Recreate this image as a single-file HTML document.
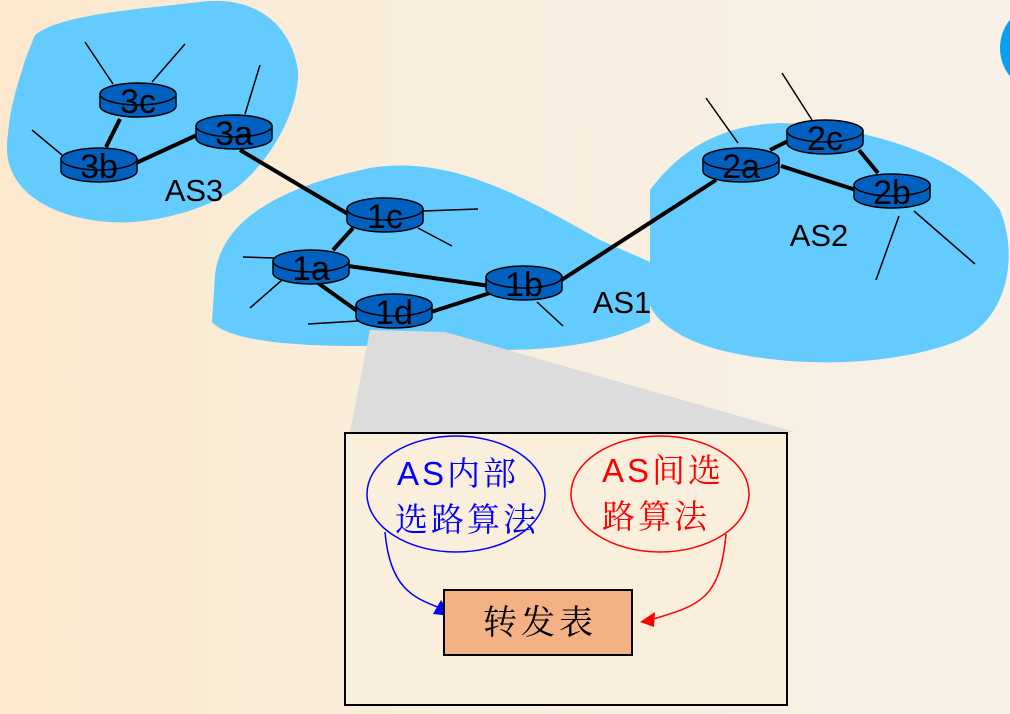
<!DOCTYPE html>
<html><head><meta charset="utf-8"><style>
html,body{margin:0;padding:0;width:1010px;height:714px;overflow:hidden}
body{background:linear-gradient(90deg,#fbe8cd 0%,#f9eedd 45%,#f7f1e7 100%)}
svg{display:block}
.lbl{font-family:"Liberation Sans","DejaVu Sans",sans-serif;font-size:31px;fill:#000}
.rl{font-family:"Liberation Sans","DejaVu Sans",sans-serif;font-size:34px;fill:#000}
.cjk{font-family:"Liberation Sans","Noto Serif CJK SC","Noto Sans CJK SC",serif;font-size:33px;letter-spacing:3px}
</style></head><body>
<svg width="1010" height="714" viewBox="0 0 1010 714">
<defs>
<g id="r">
<path d="M-38,-6 L-38,6 A38,11 0 0 0 38,6 L38,-6 Z" fill="#0060c0" stroke="#000" stroke-width="1.5"/>
<ellipse cx="0" cy="-6" rx="38" ry="11" fill="#0060c0" stroke="#000" stroke-width="1.5"/>
</g>
</defs>
<circle cx="1045" cy="48" r="45" fill="#0aa0f0"/>
<path d="M35,35 C60,15 130,10 200,2 C250,-5 290,20 298,70 C300,110 270,160 240,185 C210,210 150,225 110,222 C50,218 5,190 7,145 C10,100 20,80 25,60 Z" fill="#63cbfd"/>
<path d="M650,190 C680,150 720,125 780,123 C850,125 960,150 1000,210 C1020,260 1005,320 960,340 C900,365 800,370 720,350 C680,340 655,320 650,305 Z" fill="#63cbfd"/>
<path d="M215,275 C222,215 290,185 370,168 C450,155 520,195 600,240 L650,262 L650,322 C610,342 560,350 500,350 L360,346 C300,346 230,342 212,322 Z" fill="#63cbfd"/>
<polygon points="370,330 445,332 795,432 350,432" fill="#dcdcdc"/>
<g stroke="#000" stroke-width="1.5">
<line x1="85" y1="42" x2="113" y2="84"/><line x1="185" y1="44" x2="152" y2="82"/>
<line x1="260" y1="65" x2="245" y2="114"/><line x1="32" y1="130" x2="62" y2="155"/>
<line x1="423" y1="211" x2="478" y2="209"/><line x1="418" y1="228" x2="452" y2="246"/>
<line x1="243" y1="257" x2="275" y2="258"/><line x1="250" y1="308" x2="282" y2="280"/>
<line x1="308" y1="324" x2="358" y2="321"/><line x1="537" y1="302" x2="563" y2="326"/>
<line x1="706" y1="98" x2="738" y2="143"/><line x1="782" y1="73" x2="812" y2="120"/>
<line x1="899" y1="216" x2="876" y2="280"/><line x1="914" y1="211" x2="975" y2="264"/>
</g>
<g stroke="#000" stroke-width="4">
<line x1="120" y1="119" x2="106" y2="147"/><line x1="136" y1="163" x2="197" y2="135"/>
<line x1="240" y1="150" x2="348" y2="214"/><line x1="353" y1="228" x2="333" y2="250"/>
<line x1="348" y1="266" x2="490" y2="286"/><line x1="318" y1="283" x2="360" y2="313"/>
<line x1="431" y1="312" x2="490" y2="293"/><line x1="560" y1="281" x2="716" y2="180"/>
<line x1="770" y1="150" x2="790" y2="140"/><line x1="859" y1="150" x2="878" y2="173"/>
<line x1="781" y1="166" x2="856" y2="190"/>
</g>
<use href="#r" x="138" y="100"/><use href="#r" x="234" y="132"/><use href="#r" x="99" y="165"/>
<use href="#r" x="385" y="215"/><use href="#r" x="311" y="267"/><use href="#r" x="394" y="311"/>
<use href="#r" x="524" y="283"/><use href="#r" x="741" y="165"/><use href="#r" x="825" y="137"/>
<use href="#r" x="892" y="191"/>
<g class="rl" text-anchor="middle">
<text x="138" y="113">3c</text><text x="234" y="145">3a</text><text x="99" y="178">3b</text>
<text x="385" y="228">1c</text><text x="311" y="280">1a</text><text x="394" y="324">1d</text>
<text x="524" y="296">1b</text><text x="741" y="178">2a</text><text x="825" y="150">2c</text>
<text x="892" y="204">2b</text>
</g>
<g class="lbl" text-anchor="middle">
<text x="194" y="201">AS3</text><text x="622" y="313">AS1</text><text x="819" y="246">AS2</text>
</g>
<rect x="345" y="433" width="442" height="272" fill="#faeedd" stroke="#000" stroke-width="2"/>
<ellipse cx="456" cy="494" rx="89" ry="58" fill="none" stroke="#0000ff" stroke-width="1.5"/>
<ellipse cx="660" cy="494" rx="89" ry="58" fill="none" stroke="#ff0000" stroke-width="1.5"/>
<text x="397" y="485" class="cjk" fill="#0000ff">AS内部</text>
<text x="395" y="531" class="cjk" fill="#0000ff">选路算法</text>
<text x="602" y="482" class="cjk" fill="#ff0000">AS间选</text>
<text x="602" y="528" class="cjk" fill="#ff0000">路算法</text>
<path d="M385,532 C390,590 415,598 440,608" fill="none" stroke="#0000ff" stroke-width="1.5"/>
<polygon points="451,616 433,614 441,600" fill="#0000ff"/>
<path d="M726,534 C720,600 700,605 650,620" fill="none" stroke="#ff0000" stroke-width="1.5"/>
<polygon points="640,622 655,612 654,627" fill="#ff0000"/>
<rect x="444" y="590" width="188" height="65" fill="#f4b183" stroke="#000" stroke-width="2"/>
<text x="540" y="634" class="cjk" fill="#000" text-anchor="middle" style="font-size:34px;letter-spacing:4px">转发表</text>
</svg>
</body></html>
